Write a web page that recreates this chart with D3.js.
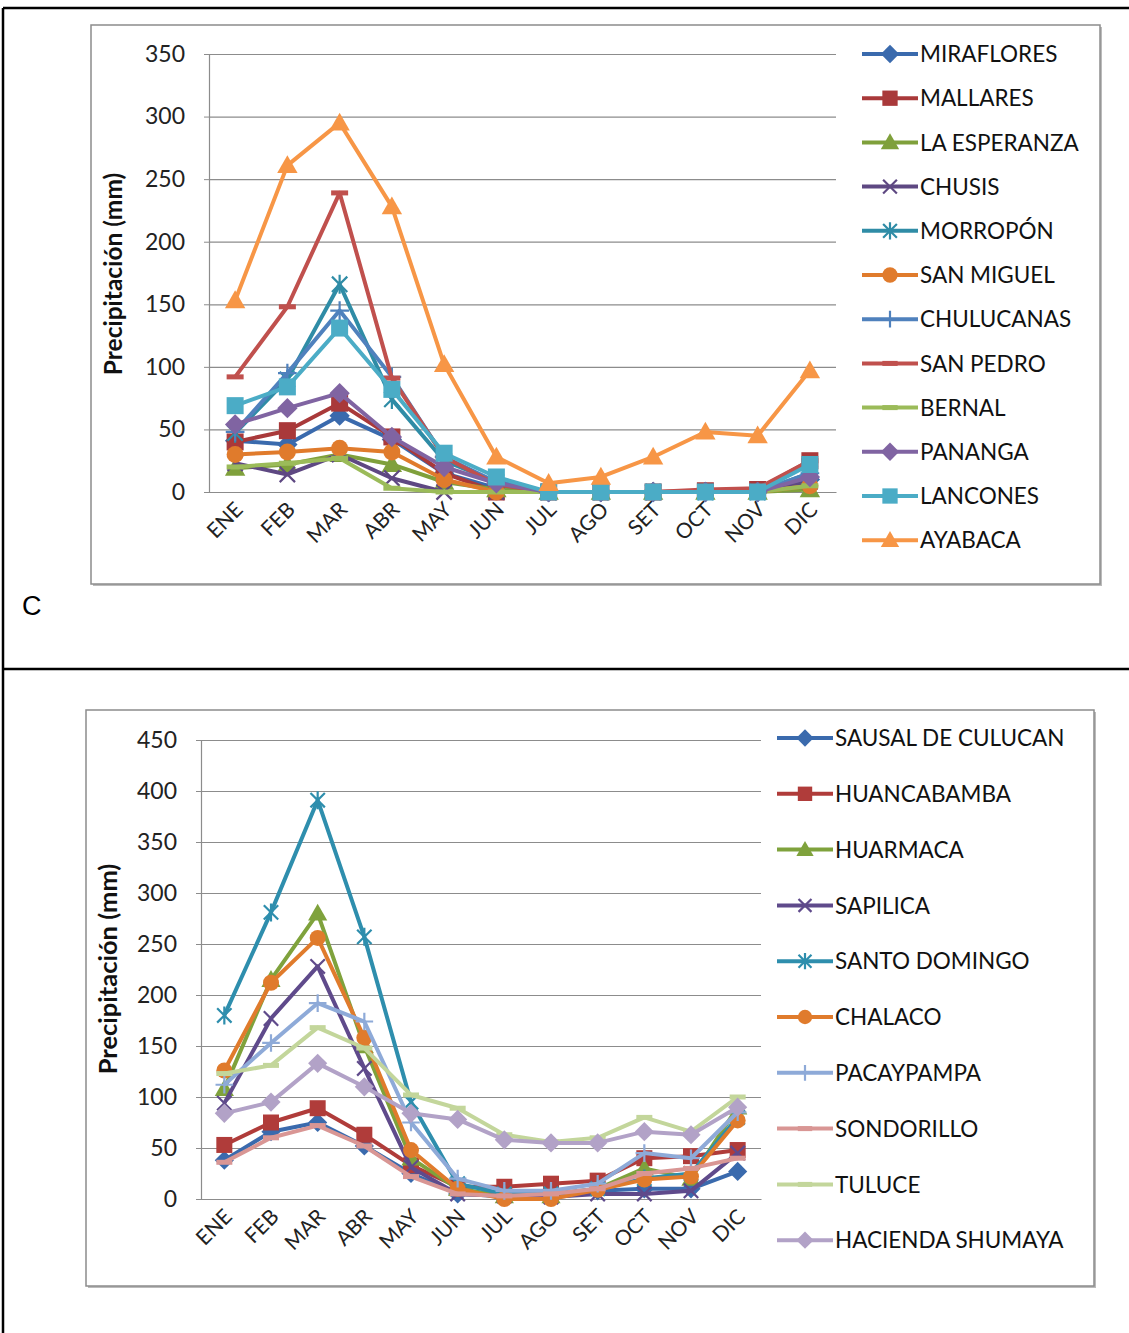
<!DOCTYPE html>
<html><head><meta charset="utf-8">
<script src="https://cdn.jsdelivr.net/npm/d3@7"></script>
<style>
body{margin:0;background:#fff;}
svg{display:block;font-family:Lato,"Open Sans",sans-serif;}
</style></head>
<body>
<svg id="c" width="1129" height="1333"></svg>
<script>
// ---------- DATA ----------
const months = ["ENE","FEB","MAR","ABR","MAY","JUN","JUL","AGO","SET","OCT","NOV","DIC"];

// Chart C (top)
const topNames = ["MIRAFLORES","MALLARES","LA ESPERANZA","CHUSIS","MORROPÓN","SAN MIGUEL","CHULUCANAS","SAN PEDRO","BERNAL","PANANGA","LANCONES","AYABACA"];
const miraflores   = [41, 38, 61, 42, 15, 3, 0, 0, 0, 0, 0, 10];
const mallares     = [40, 49, 71, 44, 15, 0, 0, 0, 0, 1, 2, 25];
const laEsperanza  = [19, 22, 30, 22, 8, 2, 0, 0, 0, 0, 0, 2];
const chusis       = [23, 14, 30, 11, 0, 0, 0, 0, 0, 0, 0, 8];
const morropon     = [47, 90, 166, 74, 25, 8, 0, 0, 0, 0, 0, 15];
const sanMiguel    = [30, 32, 35, 32, 10, 0, 0, 0, 0, 0, 0, 5];
const chulucanas   = [48, 95, 145, 92, 28, 8, 0, 0, 0, 0, 0, 15];
const sanPedro     = [92, 148, 239, 91, 28, 6, 0, 0, 0, 2, 3, 25];
const bernal       = [20, 23, 27, 3, 0, 0, 0, 0, 0, 0, 0, 5];
const pananga      = [54, 67, 79, 44, 20, 7, 0, 0, 0, 0, 0, 12];
const lancones     = [69, 84, 131, 82, 31, 12, 0, 0, 0, 0, 0, 22];
const ayabaca      = [153, 261, 295, 228, 102, 28, 7, 12, 28, 48, 45, 97];
const topValues = [miraflores, mallares, laEsperanza, chusis, morropon, sanMiguel, chulucanas, sanPedro, bernal, pananga, lancones, ayabaca];
const topTicks = [0,50,100,150,200,250,300,350];

// Bottom chart
const botNames = ["SAUSAL DE CULUCAN","HUANCABAMBA","HUARMACA","SAPILICA","SANTO DOMINGO","CHALACO","PACAYPAMPA","SONDORILLO","TULUCE","HACIENDA SHUMAYA"];
const sausal       = [38, 66, 75, 52, 25, 5, 3, 3, 8, 10, 10, 27];
const huancabamba  = [53, 75, 89, 63, 33, 12, 12, 15, 18, 40, 42, 48];
const huarmaca     = [108, 215, 280, 150, 40, 10, 3, 3, 10, 30, 20, 90];
const sapilica     = [94, 177, 228, 128, 31, 5, 3, 2, 5, 5, 8, 45];
const santoDomingo = [180, 281, 391, 257, 95, 15, 5, 5, 10, 20, 25, 80];
const chalaco      = [126, 212, 256, 158, 48, 10, 0, 0, 9, 19, 22, 77];
const pacaypampa   = [112, 153, 192, 174, 75, 20, 8, 8, 15, 45, 40, 85];
const sondorillo   = [36, 60, 72, 52, 22, 5, 3, 5, 10, 25, 30, 40];
const tuluce       = [123, 131, 168, 148, 102, 89, 63, 56, 60, 80, 66, 100];
const shumaya      = [84, 95, 133, 110, 84, 78, 58, 55, 55, 66, 63, 90];
const botValues = [sausal, huancabamba, huarmaca, sapilica, santoDomingo, chalaco, pacaypampa, sondorillo, tuluce, shumaya];
const botTicks = [0,50,100,150,200,250,300,350,400,450];

// ---------- STYLE ----------
const topColors = ["#3a6aad","#a9393a","#7fa03b","#5e4882","#2f8ca6","#e07b2c","#4f81bd","#c0504d","#9bbb59","#8064a2","#4bacc6","#f79646"];
const topMarkers = ["diamond","square","triangle","x","star","circle","plus","dash","dash","diamond","square","triangle"];
const botColors = ["#3a6aad","#b03c3a","#7fa23c","#5f4a8b","#2e8ead","#e07b2c","#8eaad8","#d99694","#c3d69b","#b2a2c7"];
const botMarkers = ["diamond","square","triangle","x","star","circle","plus","dash","dash","diamond"];

const svg = d3.select("#c");

// outer table lines
svg.append("line").attr("x1",3).attr("x2",1129).attr("y1",8).attr("y2",8).attr("stroke","#000").attr("stroke-width",2.5);
svg.append("line").attr("x1",3).attr("x2",3).attr("y1",8).attr("y2",1333).attr("stroke","#000").attr("stroke-width",2.5);
svg.append("line").attr("x1",3).attr("x2",1129).attr("y1",669).attr("y2",669).attr("stroke","#000").attr("stroke-width",2.5);
svg.append("text").attr("x",22).attr("y",615).attr("font-family","'Liberation Sans',Arial,sans-serif").attr("font-size",27).text("C");

function marker(g, type, color, cx, cy, s){
  if (type==="square"){
    g.append("rect").attr("x",cx-s/2).attr("y",cy-s/2).attr("width",s).attr("height",s).attr("fill",color);
  } else if (type==="diamond"){
    const r=s*0.6;
    g.append("path").attr("d",`M${cx},${cy-r}L${cx+r},${cy}L${cx},${cy+r}L${cx-r},${cy}Z`).attr("fill",color);
  } else if (type==="triangle"){
    const h=s*1.0, w=s*0.6;
    g.append("path").attr("d",`M${cx},${cy-h*0.6}L${cx+w},${cy+h*0.45}L${cx-w},${cy+h*0.45}Z`).attr("fill",color);
  } else if (type==="circle"){
    g.append("circle").attr("cx",cx).attr("cy",cy).attr("r",s*0.5).attr("fill",color);
  } else if (type==="x"){
    const r=s*0.45;
    g.append("path").attr("d",`M${cx-r},${cy-r}L${cx+r},${cy+r}M${cx-r},${cy+r}L${cx+r},${cy-r}`).attr("stroke",color).attr("stroke-width",2.2).attr("fill","none");
  } else if (type==="star"){
    const r=s*0.45;
    g.append("path").attr("d",`M${cx-r},${cy-r}L${cx+r},${cy+r}M${cx-r},${cy+r}L${cx+r},${cy-r}M${cx},${cy-r*1.25}L${cx},${cy+r*1.25}`).attr("stroke",color).attr("stroke-width",2.2).attr("fill","none");
  } else if (type==="plus"){
    const r=s*0.55;
    g.append("path").attr("d",`M${cx-r},${cy}L${cx+r},${cy}M${cx},${cy-r}L${cx},${cy+r}`).attr("stroke",color).attr("stroke-width",2.2).attr("fill","none");
  } else if (type==="dash"){
    g.append("rect").attr("x",cx-s*0.5).attr("y",cy-2.5).attr("width",s).attr("height",5).attr("fill",color);
  }
}

function chart(o){
  const g = svg.append("g");
  // frame
  g.append("rect").attr("x",o.fx+2).attr("y",o.fy+2).attr("width",o.fw).attr("height",o.fh).attr("fill","#bbb");
  g.append("rect").attr("x",o.fx).attr("y",o.fy).attr("width",o.fw).attr("height",o.fh).attr("fill","#fff").attr("stroke","#8c8c8c").attr("stroke-width",1.5);

  const x = d3.scaleBand().domain(months).range([o.left,o.right]).paddingInner(0).paddingOuter(0);
  const y = d3.scaleLinear().domain([0,o.max]).range([o.y0,o.ytop]);
  const xc = m => x(m)+x.bandwidth()/2;

  // grid
  g.append("g").attr("transform",`translate(${o.left},0)`)
    .call(d3.axisLeft(y).tickValues(o.ticks).tickSize(-(o.right-o.left)).tickFormat(""))
    .call(a=>a.select(".domain").remove())
    .call(a=>a.selectAll("line").attr("stroke","#8c8c8c").attr("stroke-width",1.2));
  // y axis
  g.append("g").attr("transform",`translate(${o.left},0)`)
    .call(d3.axisLeft(y).tickValues(o.ticks).tickSize(5).tickPadding(19))
    .call(a=>a.select(".domain").attr("stroke","#8c8c8c").attr("stroke-width",1.2))
    .call(a=>a.selectAll("line").attr("stroke","#8c8c8c"))
    .call(a=>a.selectAll("text").attr("font-family","Lato,sans-serif").attr("font-size",23).attr("fill","#222"));
  // x axis
  const xa = g.append("g").attr("transform",`translate(0,${o.y0})`)
    .call(d3.axisBottom(x).tickSize(0).tickFormat(d=>d));
  xa.select(".domain").attr("stroke","#8c8c8c").attr("stroke-width",1.2);
  xa.selectAll("text").attr("font-family","Lato,sans-serif").attr("font-size",21).attr("fill","#222")
    .attr("text-anchor","end").attr("dy",null).attr("y",0)
    .attr("transform","translate(9,19) rotate(-45)");

  // y title
  g.append("text").attr("transform",`translate(${o.tx},${o.ty}) rotate(-90)`).attr("text-anchor","middle")
    .attr("font-family","Lato,sans-serif").attr("font-weight","bold").attr("font-size",o.tfs).attr("fill","#111")
    .text("Precipitación (mm)");

  const line = d3.line().x((d,i)=>xc(months[i])).y(d=>y(d));
  o.values.forEach((vals,k)=>{
    const sg = g.append("g");
    sg.append("path").attr("d",line(vals)).attr("fill","none").attr("stroke",o.colors[k]).attr("stroke-width",o.lw).attr("stroke-linejoin","round");
    vals.forEach((v,i)=>marker(sg,o.markers[k],o.colors[k],xc(months[i]),y(v),o.ms));
  });

  // legend
  o.names.forEach((n,k)=>{
    const ly = o.ly0 + k*o.lstep;
    const lg = g.append("g");
    lg.append("line").attr("x1",o.lx).attr("x2",o.lx+56).attr("y1",ly).attr("y2",ly).attr("stroke",o.colors[k]).attr("stroke-width",o.lw);
    marker(lg,o.markers[k],o.colors[k],o.lx+28,ly,o.ms*0.9);
    lg.append("text").attr("x",o.lx+58).attr("y",ly).attr("dy","0.36em").attr("font-family","Lato,sans-serif").attr("font-size",22.5).attr("fill","#111").text(n);
  });
}

chart({fx:91,fy:25,fw:1009,fh:559,left:209,right:836,y0:492,ytop:54,max:350,ticks:topTicks,
  names:topNames,values:topValues,colors:topColors,markers:topMarkers,lw:4,ms:17,
  tx:122,ty:274,tfs:24.5,lx:862,ly0:54,lstep:44.2});
chart({fx:86,fy:710,fw:1008,fh:576,left:201,right:761,y0:1199,ytop:740,max:450,ticks:botTicks,
  names:botNames,values:botValues,colors:botColors,markers:botMarkers,lw:4,ms:16,
  tx:117,ty:969,tfs:25.5,lx:777,ly0:738,lstep:55.8});
</script>
</body></html>
